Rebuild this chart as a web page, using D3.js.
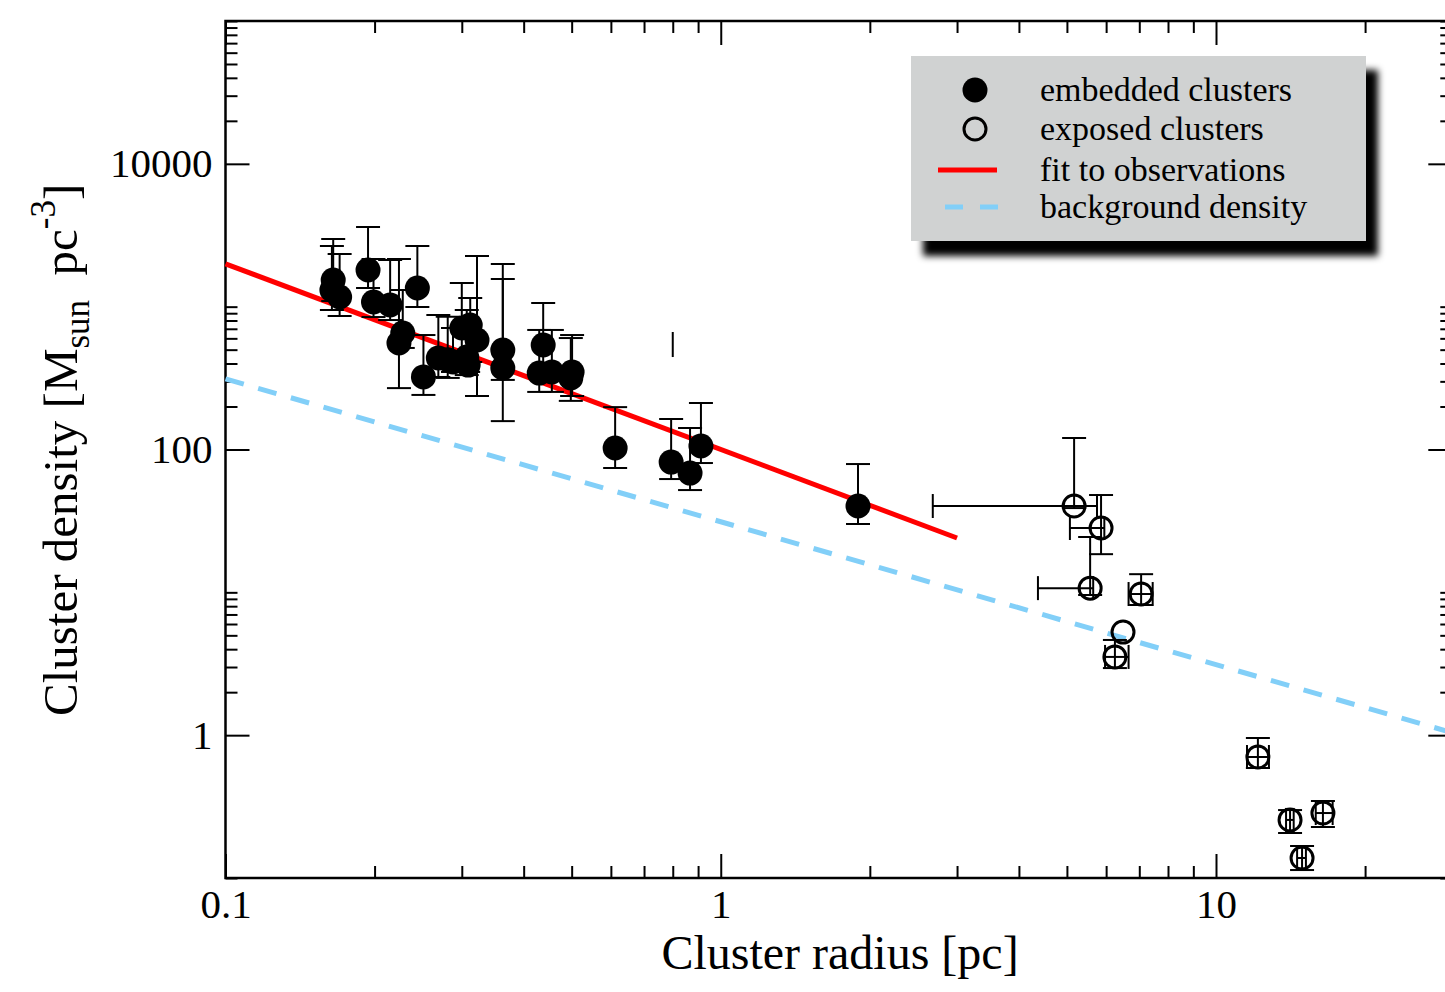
<!DOCTYPE html>
<html>
<head>
<meta charset="utf-8">
<script src="https://cdn.jsdelivr.net/npm/d3@7"></script>
<style>
  body { margin: 0; background: #ffffff; }
  text { font-family: "Liberation Serif", "Times New Roman", serif; fill: #000; }
</style>
</head>
<body>
<svg id="chart" width="1445" height="992"></svg>
<script>

// embedded clusters : [ radius (pc), density, density low, density high ]
const embeddedClusters = [
  [ 0.165, 1537, 1095, 2977 ],
  [ 0.164, 1308, 948, 2658 ],
  [ 0.170, 1168, 860, 2337 ],
  [ 0.194, 1806, 1351, 3611 ],
  [ 0.199, 1078, 846, 2156 ],
  [ 0.215, 1027, 806, 2121 ],
  [ 0.244, 1351, 995, 2658 ],
  [ 0.228, 654, 514, 1308 ],
  [ 0.224, 557, 269, 2156 ],
  [ 0.251, 322, 241, 633 ],
  [ 0.269, 437, 322, 874 ],
  [ 0.281, 425, 317, 850 ],
  [ 0.288, 410, 349, 709 ],
  [ 0.300, 709, 444, 1464 ],
  [ 0.312, 744, 410, 1150 ],
  [ 0.322, 584, 237, 2263 ],
  [ 0.307, 444, 332, 948 ],
  [ 0.309, 390, 349, 687 ],
  [ 0.363, 497, 307, 1562 ],
  [ 0.363, 372, 158, 1989 ],
  [ 0.438, 539, 343, 1061 ],
  [ 0.430, 343, 253, 687 ],
  [ 0.456, 349, 253, 687 ],
  [ 0.501, 349, 237, 633 ],
  [ 0.498, 317, 219, 603 ],
  [ 0.612, 102.4, 74.2, 198 ],
  [ 0.794, 81.7, 62.1, 163.5 ],
  [ 0.867, 68.4, 52.0, 141.4 ],
  [ 0.912, 105.8, 80.4, 211.6 ],
  [ 1.893, 40.2, 30.1, 79.1 ]
];

// exposed clusters : [ radius, density, density low, density high, radius low, radius high ]
const exposedClusters = [
  [ 5.17, 40.2, 38.9, 120.4, 2.68, 5.75 ],
  [ 5.86, 28.2, 18.5, 48.0, 5.07, 5.95 ],
  [ 5.57, 10.7, 9.58, 24.4, 4.37, 5.65 ],
  [ 7.06, 9.73, 8.15, 13.4, 6.66, 7.45 ],
  [ 6.49, 5.27, null, null, null, null ],
  [ 6.25, 3.53, 2.95, 4.64, 5.97, 6.66 ],
  [ 12.15, 0.703, 0.589, 0.955, 11.55, 12.79 ],
  [ 14.11, 0.255, 0.2065, 0.299, 13.85, 14.35 ],
  [ 16.44, 0.285, 0.2275, 0.346, 15.9, 17.2 ],
  [ 14.92, 0.138, 0.1137, 0.1675, 14.58, 15.19 ]
];

// lone error bar without a symbol : [ radius, density low, density high ]
const strayErrorBar = [ [ 0.80, 444, 665 ] ];

const fitLine = [ [ 0.1, 1995 ], [ 3.0, 24 ] ];
const backgroundLine = [ [ 0.1, 312 ], [ 30, 1.04 ] ];

const xTickLabels = [ 0.1, 1, 10 ];
const yTickLabels = [ 1, 100, 10000 ];
const legendLabels = [ "embedded clusters", "exposed clusters", "fit to observations", "background density" ];

const svg = d3.select( "#chart" );

const plotLeft = 225.5,
      plotTop = 21,
      plotBottom = 878,
      decade = 495.25;

const x = d3.scaleLog()
  .domain( [ 0.1, 30 ] )
  .range( [ plotLeft, plotLeft + decade * Math.log10( 300 ) ] );

const y = d3.scaleLog()
  .domain( [ 0.1, 1e5 ] )
  .range( [ plotBottom, plotTop ] );

const plotRight = x.range()[ 1 ];

// minor ticks : 2..9 inside each decade on x, k * major for k = 2..10 on y
const xMinor = [];
[ 0.1, 1, 10 ].forEach( d => d3.range( 2, 10 ).forEach( k => { if( d * k <= 30 ) xMinor.push( d * k ); } ) );
const yMinor = [];
[ 0.01, 1, 100, 10000 ].forEach( d => d3.range( 2, 11 ).forEach( k => {
  const v = d * k;
  if( v >= 0.1 && v <= 1e5 ) yMinor.push( v );
} ) );

function styleAxis( g ) {
  g.select( ".domain" ).remove();
  g.attr( "font-family", null );
  g.selectAll( ".tick line" ).attr( "stroke", "#000" ).attr( "stroke-width", 2 );
  g.selectAll( ".tick text" )
    .style( "font-family", "'Liberation Serif', 'Times New Roman', serif" )
    .style( "font-size", "41px" )
    .attr( "fill", "#000" );
}

const fmt = d3.format( "" );

// bottom
svg.append( "g" ).attr( "transform", `translate(0,${ plotBottom })` )
  .call( d3.axisBottom( x ).tickValues( xTickLabels ).tickSize( -24 ).tickPadding( 11 ).tickFormat( fmt ) )
  .call( styleAxis );
svg.append( "g" ).attr( "transform", `translate(0,${ plotBottom })` )
  .call( d3.axisBottom( x ).tickValues( xMinor ).tickSize( -12 ).tickFormat( "" ) )
  .call( styleAxis );

// top
svg.append( "g" ).attr( "transform", `translate(0,${ plotTop })` )
  .call( d3.axisTop( x ).tickValues( xTickLabels ).tickSize( -24 ).tickFormat( "" ) )
  .call( styleAxis );
svg.append( "g" ).attr( "transform", `translate(0,${ plotTop })` )
  .call( d3.axisTop( x ).tickValues( xMinor ).tickSize( -12 ).tickFormat( "" ) )
  .call( styleAxis );

// left
svg.append( "g" ).attr( "transform", `translate(${ plotLeft },0)` )
  .call( d3.axisLeft( y ).tickValues( yTickLabels ).tickSize( -24 ).tickPadding( 13 ).tickFormat( fmt ) )
  .call( styleAxis );
svg.append( "g" ).attr( "transform", `translate(${ plotLeft },0)` )
  .call( d3.axisLeft( y ).tickValues( yMinor ).tickSize( -12 ).tickFormat( "" ) )
  .call( styleAxis );

// right
svg.append( "g" ).attr( "transform", `translate(${ plotRight },0)` )
  .call( d3.axisRight( y ).tickValues( yTickLabels ).tickSize( -24 ).tickFormat( "" ) )
  .call( styleAxis );
svg.append( "g" ).attr( "transform", `translate(${ plotRight },0)` )
  .call( d3.axisRight( y ).tickValues( yMinor ).tickSize( -12 ).tickFormat( "" ) )
  .call( styleAxis );

// frame
svg.append( "rect" )
  .attr( "x", plotLeft )
  .attr( "y", plotTop )
  .attr( "width", plotRight - plotLeft )
  .attr( "height", plotBottom - plotTop )
  .attr( "fill", "none" )
  .attr( "stroke", "#000" )
  .attr( "stroke-width", 2.5 );

const line = d3.line()
  .x( d => x( d[ 0 ] ) )
  .y( d => y( d[ 1 ] ) );

const plot = svg.append( "g" );

plot.append( "path" )
  .datum( backgroundLine )
  .attr( "d", line )
  .attr( "fill", "none" )
  .attr( "stroke", "#82cff8" )
  .attr( "stroke-width", 5 )
  .attr( "stroke-dasharray", "19,15" );

plot.append( "path" )
  .datum( fitLine )
  .attr( "d", line )
  .attr( "fill", "none" )
  .attr( "stroke", "#ff0000" )
  .attr( "stroke-width", 5 );

// filled symbols
plot.selectAll( "circle.embedded" )
  .data( embeddedClusters )
  .enter().append( "circle" )
    .attr( "class", "embedded" )
    .attr( "cx", d => x( d[ 0 ] ) )
    .attr( "cy", d => y( d[ 1 ] ) )
    .attr( "r", 12.5 )
    .attr( "fill", "#000" );

const bars = plot.append( "g" )
  .attr( "stroke", "#000" )
  .attr( "stroke-width", 2 )
  .attr( "fill", "none" );

function vBar( r, lo, hi, cap ) {
  const cx = x( r );
  bars.append( "line" ).attr( "x1", cx ).attr( "x2", cx ).attr( "y1", y( lo ) ).attr( "y2", y( hi ) );
  if( !cap ) return;
  [ lo, hi ].forEach( v => bars.append( "line" )
    .attr( "x1", cx - 12 ).attr( "x2", cx + 12 )
    .attr( "y1", y( v ) ).attr( "y2", y( v ) ) );
}

function hBar( rho, lo, hi ) {
  const cy = y( rho );
  bars.append( "line" ).attr( "x1", x( lo ) ).attr( "x2", x( hi ) ).attr( "y1", cy ).attr( "y2", cy );
  [ lo, hi ].forEach( v => bars.append( "line" )
    .attr( "x1", x( v ) ).attr( "x2", x( v ) )
    .attr( "y1", cy - 12 ).attr( "y2", cy + 12 ) );
}

embeddedClusters.forEach( d => vBar( d[ 0 ], d[ 2 ], d[ 3 ], true ) );
strayErrorBar.forEach( d => vBar( d[ 0 ], d[ 1 ], d[ 2 ], false ) );

exposedClusters.forEach( d => {
  if( d[ 2 ] != null ) vBar( d[ 0 ], d[ 2 ], d[ 3 ], true );
  if( d[ 4 ] != null ) hBar( d[ 1 ], d[ 4 ], d[ 5 ] );
} );

// open symbols
plot.selectAll( "circle.exposed" )
  .data( exposedClusters )
  .enter().append( "circle" )
    .attr( "class", "exposed" )
    .attr( "cx", d => x( d[ 0 ] ) )
    .attr( "cy", d => y( d[ 1 ] ) )
    .attr( "r", 11 )
    .attr( "fill", "none" )
    .attr( "stroke", "#000" )
    .attr( "stroke-width", 3 );

// axis titles
svg.append( "text" )
  .attr( "x", 840 )
  .attr( "y", 969 )
  .attr( "text-anchor", "middle" )
  .style( "font-size", "48px" )
  .text( "Cluster radius [pc]" );

const yTitle = svg.append( "text" )
  .attr( "transform", "translate(77,716) rotate(-90)" )
  .attr( "text-anchor", "start" )
  .style( "font-size", "49px" );
yTitle.append( "tspan" ).text( "Cluster density [M" );
yTitle.append( "tspan" ).attr( "dy", 12 ).style( "font-size", "35px" ).text( "sun" );
yTitle.append( "tspan" ).attr( "dy", -12 ).text( "\u00a0 pc" );
yTitle.append( "tspan" ).attr( "dy", -22 ).style( "font-size", "35px" ).text( "-3" );
yTitle.append( "tspan" ).attr( "dy", 22 ).text( "]" );

// legend
const defs = svg.append( "defs" );
defs.append( "filter" )
  .attr( "id", "shadowBlur" )
  .attr( "x", "-10%" ).attr( "y", "-20%" )
  .attr( "width", "120%" ).attr( "height", "140%" )
  .append( "feGaussianBlur" )
    .attr( "stdDeviation", 3.5 );

const legend = svg.append( "g" );

legend.append( "rect" )
  .attr( "x", 923 ).attr( "y", 70 )
  .attr( "width", 455 ).attr( "height", 186 )
  .attr( "fill", "#000" )
  .attr( "filter", "url(#shadowBlur)" );

legend.append( "rect" )
  .attr( "x", 911 ).attr( "y", 56 )
  .attr( "width", 455 ).attr( "height", 185 )
  .attr( "fill", "#d0d2d2" );

const rowY = [ 90, 129, 170, 207 ];

legend.append( "circle" )
  .attr( "cx", 975 ).attr( "cy", rowY[ 0 ] ).attr( "r", 12.5 ).attr( "fill", "#000" );
legend.append( "circle" )
  .attr( "cx", 975 ).attr( "cy", rowY[ 1 ] ).attr( "r", 11 )
  .attr( "fill", "none" ).attr( "stroke", "#000" ).attr( "stroke-width", 3 );
legend.append( "line" )
  .attr( "x1", 938 ).attr( "x2", 997 ).attr( "y1", rowY[ 2 ] ).attr( "y2", rowY[ 2 ] )
  .attr( "stroke", "#ff0000" ).attr( "stroke-width", 5 );
legend.append( "line" )
  .attr( "x1", 945 ).attr( "x2", 998 ).attr( "y1", rowY[ 3 ] ).attr( "y2", rowY[ 3 ] )
  .attr( "stroke", "#82cff8" ).attr( "stroke-width", 5 )
  .attr( "stroke-dasharray", "18,17" );

legend.selectAll( "text.legendLabel" )
  .data( legendLabels )
  .enter().append( "text" )
    .attr( "class", "legendLabel" )
    .attr( "x", 1040 )
    .attr( "y", ( d, i ) => rowY[ i ] + 11 )
    .style( "font-size", "34px" )
    .text( d => d );

</script>
</body>
</html>
